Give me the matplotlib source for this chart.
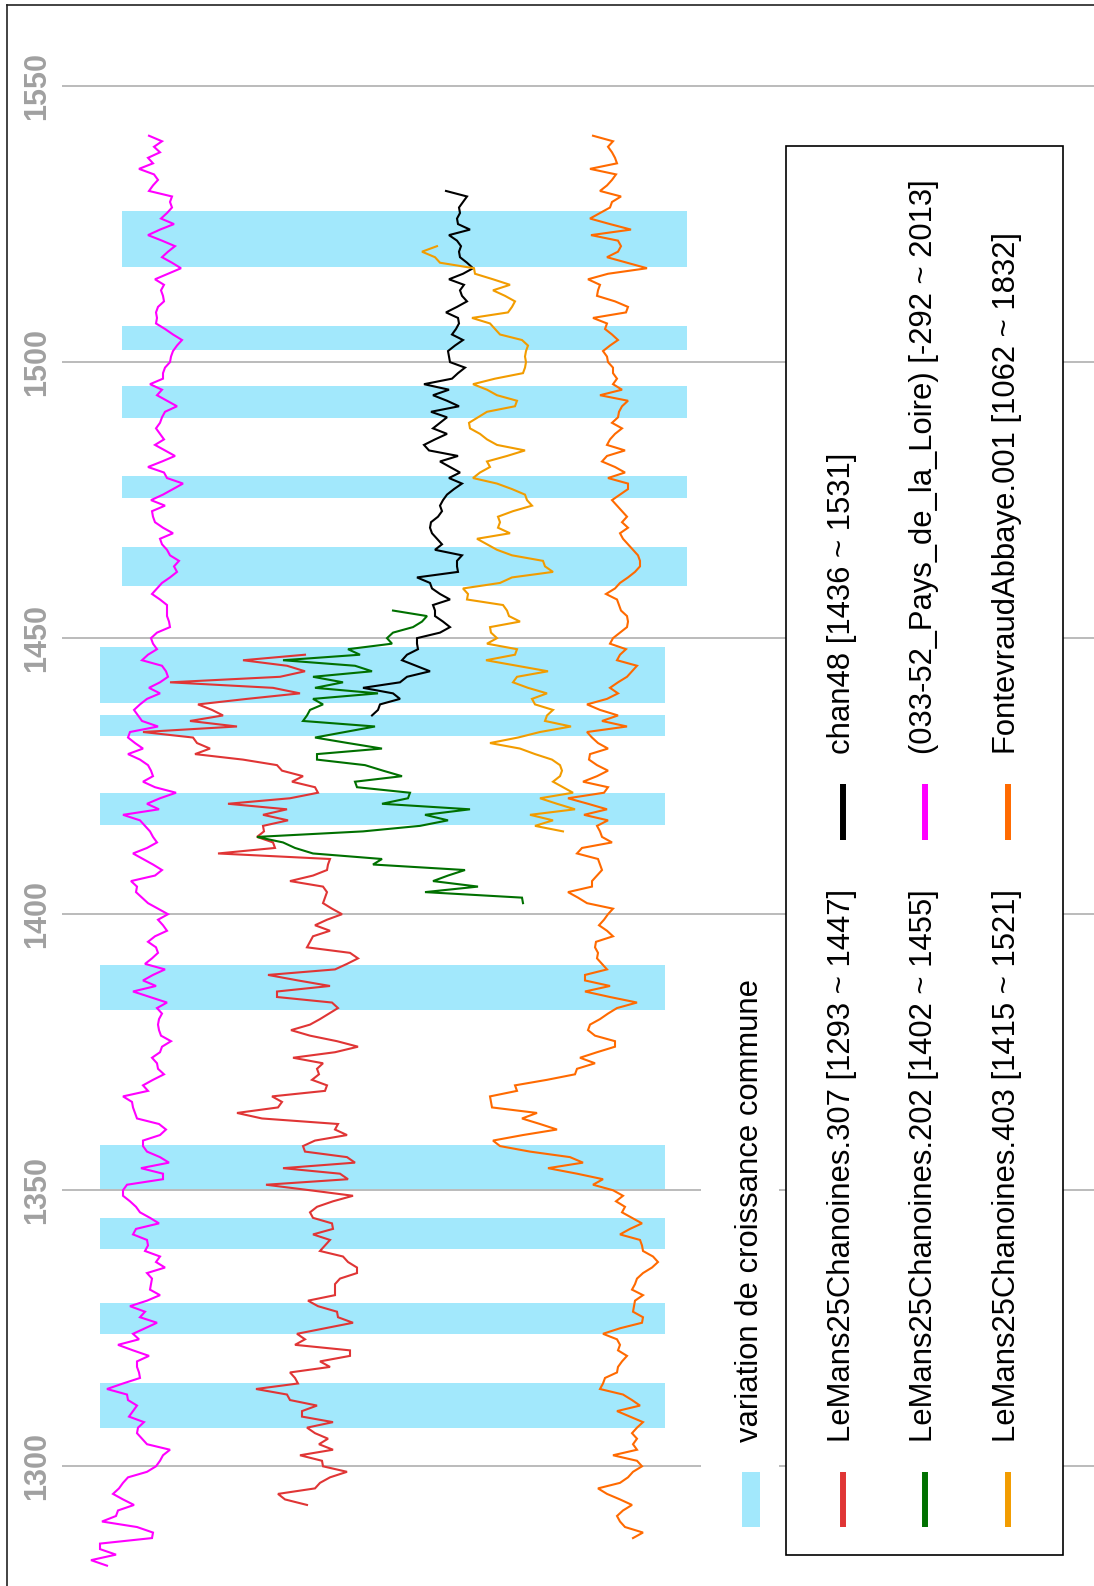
import numpy as np
import matplotlib
matplotlib.use("Agg")
import matplotlib.pyplot as plt
from matplotlib.transforms import Affine2D
from matplotlib.patches import Rectangle
from matplotlib.lines import Line2D

plt.rcParams['font.family'] = ['Liberation Sans', 'DejaVu Sans']

# ---------------- data ----------------
tick_years = [1300, 1350, 1400, 1450, 1500, 1550]

band_start = [1307.0, 1324.0, 1339.3, 1350.3, 1382.7, 1416.2, 1432.2, 1438.3,
              1459.5, 1475.4, 1489.9, 1502.2, 1517.3]
band_end = [1315.0, 1329.6, 1345.0, 1358.2, 1390.8, 1422.0, 1436.1, 1448.4,
            1466.5, 1479.3, 1495.6, 1506.6, 1527.4]

magenta_start = 1282
magenta_vals = [107, 91, 116, 100, 100, 152, 153, 137, 102, 116, 118, 134, 123, 113, 119, 123, 128, 147,
                156, 160, 163, 170, 147, 142, 137, 138, 144, 129, 133, 137, 128, 127, 107, 123, 140, 139,
                137, 137, 149, 133, 118, 139, 133, 145, 157, 140, 145, 130, 147, 160, 150, 151, 152, 147,
                165, 156, 160, 145, 148, 147, 133, 136, 159, 150, 140, 136, 130, 123, 123, 127, 163, 163,
                141, 169, 160, 147, 143, 143, 160, 166, 159, 137, 135, 133, 132, 123, 148, 143, 153, 164,
                158, 157, 152, 160, 162, 171, 161, 159, 158, 159, 162, 157, 167, 150, 133, 156, 143, 153,
                165, 145, 152, 158, 156, 148, 155, 167, 163, 158, 168, 158, 148, 142, 136, 137, 131, 155,
                162, 153, 143, 133, 147, 157, 153, 150, 145, 140, 123, 159, 147, 160, 176, 155, 143, 153,
                151, 148, 140, 128, 143, 135, 128, 130, 158, 142, 138, 134, 140, 147, 160, 149, 160, 168,
                166, 162, 142, 148, 157, 153, 151, 157, 170, 169, 167, 167, 167, 160, 152, 157, 162, 170,
                177, 174, 179, 170, 167, 162, 160, 173, 163, 155, 153, 152, 165, 151, 163, 173, 183, 167,
                164, 148, 162, 175, 165, 155, 164, 160, 156, 160, 162, 165, 177, 167, 157, 162, 150, 163,
                163, 165, 170, 171, 173, 177, 182, 173, 165, 156, 157, 156, 158, 164, 163, 161, 164, 155,
                168, 181, 172, 162, 168, 175, 162, 148, 160, 174, 161, 167, 172, 170, 172, 149, 153, 158,
                154, 139, 153, 148, 160, 154, 162, 149]

red_start = 1293
red_vals = [307, 285, 278, 315, 320, 330, 347, 323, 322, 300, 333, 319, 328, 315, 307, 333, 302, 302,
            317, 290, 287, 256, 298, 295, 290, 330, 320, 350, 350, 295, 305, 297, 325, 353, 338, 337,
            318, 308, 335, 335, 335, 340, 357, 357, 348, 343, 320, 325, 330, 313, 333, 332, 313, 310,
            317, 333, 353, 310, 266, 348, 340, 283, 355, 347, 305, 303, 315, 347, 335, 338, 262, 237,
            278, 282, 272, 325, 327, 312, 319, 317, 323, 293, 335, 358, 337, 310, 291, 310, 320, 329,
            338, 332, 277, 277, 330, 298, 268, 335, 347, 358, 350, 307, 310, 313, 330, 315, 327, 342,
            332, 323, 325, 327, 323, 290, 313, 327, 328, 330, 218, 275, 273, 257, 264, 263, 288, 263,
            287, 228, 290, 318, 315, 292, 303, 282, 277, 243, 195, 210, 197, 193, 143, 237, 190, 223,
            212, 198, 247, 300, 273, 170, 280, 305, 287, 243, 305]

green_start = 1402
green_vals = [523, 522, 425, 478, 433, 448, 465, 373, 382, 313, 295, 283, 257, 363, 420, 448, 425, 470,
              382, 408, 410, 357, 355, 402, 383, 365, 317, 317, 382, 348, 315, 345, 375, 303, 307, 310,
              323, 313, 378, 315, 343, 313, 372, 355, 283, 360, 348, 392, 387, 393, 413, 422, 427, 393]

amber_start = 1415
amber_vals = [563, 535, 553, 530, 575, 557, 540, 573, 563, 553, 560, 562, 560, 552, 535, 520, 490, 518,
              540, 571, 545, 547, 553, 535, 532, 547, 528, 513, 517, 548, 517, 486, 515, 517, 487, 497,
              491, 490, 520, 509, 507, 503, 467, 468, 463, 500, 512, 553, 545, 543, 512, 497, 487, 477,
              510, 498, 500, 498, 513, 532, 527, 525, 512, 497, 473, 480, 490, 487, 507, 525, 497, 487,
              480, 470, 469, 478, 487, 515, 517, 497, 487, 473, 495, 523, 525, 526, 525, 526, 528, 522,
              500, 495, 490, 472, 508, 512, 515, 505, 493, 510, 493, 475, 474, 440, 435, 422, 437]

black_start = 1436
black_vals = [372, 378, 380, 400, 393, 363, 400, 407, 430, 416, 402, 407, 418, 417, 417, 440, 450, 443,
              435, 435, 433, 450, 440, 432, 430, 417, 458, 457, 457, 462, 435, 442, 437, 432, 430, 431,
              438, 442, 440, 443, 447, 454, 462, 449, 460, 450, 440, 458, 429, 424, 435, 447, 433, 440,
              447, 431, 459, 447, 433, 449, 424, 452, 458, 465, 450, 449, 448, 455, 463, 452, 456, 459,
              458, 446, 457, 467, 462, 460, 464, 449, 463, 473, 467, 460, 459, 461, 457, 449, 470, 458,
              457, 460, 459, 463, 467, 446]

orange_start = 1287
orange_vals = [633, 643, 625, 620, 617, 623, 632, 620, 607, 598, 620, 628, 633, 642, 637, 613, 637, 633,
               637, 632, 637, 643, 630, 617, 640, 632, 623, 600, 603, 605, 617, 618, 622, 627, 618, 620,
               617, 603, 620, 642, 643, 633, 634, 635, 643, 632, 635, 637, 643, 652, 658, 653, 643, 642,
               640, 620, 630, 642, 632, 622, 625, 616, 623, 613, 593, 603, 577, 548, 583, 570, 530, 500,
               493, 523, 557, 540, 522, 537, 492, 491, 490, 517, 515, 547, 575, 577, 595, 580, 597, 615,
               615, 595, 588, 590, 600, 608, 617, 637, 610, 585, 610, 585, 585, 607, 602, 597, 598, 595,
               596, 613, 607, 599, 604, 608, 613, 587, 578, 568, 592, 592, 597, 602, 600, 598, 577, 582,
               612, 602, 600, 597, 608, 584, 607, 588, 568, 604, 608, 583, 597, 608, 597, 589, 590, 608,
               598, 592, 587, 627, 602, 618, 600, 587, 607, 618, 610, 618, 627, 632, 637, 617, 620, 626,
               610, 613, 620, 627, 628, 627, 621, 619, 617, 606, 615, 620, 628, 635, 640, 640, 638, 633,
               628, 623, 620, 628, 622, 627, 622, 617, 612, 620, 628, 628, 608, 625, 615, 602, 607, 625,
               607, 610, 615, 622, 612, 618, 619, 622, 628, 600, 622, 613, 617, 613, 613, 608, 607, 603,
               610, 618, 612, 605, 607, 593, 626, 628, 615, 597, 598, 600, 588, 608, 647, 627, 607, 618,
               621, 618, 591, 631, 610, 590, 600, 610, 612, 621, 600, 607, 612, 616, 590, 617, 615, 612,
               608, 613, 593]

legend_col1 = ["LeMans25Chanoines.307 [1293 ~ 1447]",
               "LeMans25Chanoines.202 [1402 ~ 1455]",
               "LeMans25Chanoines.403 [1415 ~ 1521]"]
legend_col2 = ["chan48 [1436 ~ 1531]",
               "(033-52_Pays_de_la_Loire) [-292 ~ 2013]",
               "FontevraudAbbaye.001 [1062 ~ 1832]"]
band_label = "variation de croissance commune"

# ---------------- style ----------------
C_MAG = '#ff00ff'
C_RED = '#e03535'
C_GREEN = '#007000'
C_AMBER = '#f29c00'
C_BLACK = '#000000'
C_ORANGE = '#ff6a00'
C_BAND = '#a2e8fc'
C_GRID = '#a8a8a8'
C_TICK = '#a0a0a0'

W, H = 1094, 1586
PX_PER_YEAR = 5.521
Y_1300 = 1466.3
y_top = 1300 + Y_1300 / PX_PER_YEAR
y_bot = 1300 - (H - Y_1300) / PX_PER_YEAR

fig = plt.figure(figsize=(W / 100, H / 100), dpi=100)
ax = fig.add_axes([0, 0, 1, 1])
ax.set_xlim(0, W)
ax.set_ylim(y_bot, y_top)
ax.axis('off')

# pixel transform (origin top-left)
tpx = Affine2D().scale(1 / W, -1 / H).translate(0, 1) + fig.transFigure

# gridlines
ax.hlines(tick_years, 62, W, color=C_GRID, lw=1.1, zorder=1)
for ty in tick_years:
    ax.text(37.5, ty, str(ty), rotation=90, ha='center', va='center',
            color=C_TICK, fontsize=22, fontweight='bold', zorder=5)

# bands
for b0, b1 in zip(band_start, band_end):
    x0 = 100 if b1 < 1450 else 122
    ax.add_patch(Rectangle((x0, b0), 565, b1 - b0, facecolor=C_BAND,
                           edgecolor='none', zorder=2))

series = [
    (magenta_start, magenta_vals, C_MAG),
    (red_start, red_vals, C_RED),
    (green_start, green_vals, C_GREEN),
    (black_start, black_vals, C_BLACK),
    (amber_start, amber_vals, C_AMBER),
    (orange_start, orange_vals, C_ORANGE),
]
for start, vals, col in series:
    yrs = start + np.arange(len(vals))
    ax.plot(vals, yrs, color=col, lw=1.5, zorder=3, solid_joinstyle='miter')

# outer frame (top & left)
fig.add_artist(Line2D([7, 7], [5, H], transform=tpx, color='#222222', lw=1.2))
fig.add_artist(Line2D([7, W], [5, 5], transform=tpx, color='#222222', lw=1.2))

# legend: band entry background
fig.add_artist(Rectangle((701, 940), 78, 640, transform=tpx, facecolor='white',
                         edgecolor='none', zorder=4))
fig.add_artist(Rectangle((741.7, 1472), 18.6, 55, transform=tpx, facecolor=C_BAND,
                         edgecolor='none', zorder=5))
fig.text(758.3, 1441.5, band_label, transform=tpx, rotation=90, rotation_mode='anchor',
         ha='left', va='baseline', fontsize=22.3, color='black', zorder=6)

# legend box
fig.add_artist(Rectangle((785.7, 145.7), 277.6, 1409, transform=tpx, facecolor='white',
                         edgecolor='black', lw=1.2, zorder=4))
base_x = [850, 932.3, 1015]
col1_colors = [C_RED, C_GREEN, C_AMBER]
col2_colors = [C_BLACK, C_MAG, C_ORANGE]
for bx, lab, col in zip(base_x, legend_col1, col1_colors):
    hx = bx - 7
    fig.add_artist(Line2D([hx, hx], [1472, 1527], transform=tpx, color=col, lw=4.3,
                          solid_capstyle='butt', zorder=6))
    fig.text(bx, 1441.5, lab, transform=tpx, rotation=90, rotation_mode='anchor',
             ha='left', va='baseline', fontsize=22.3, color='black', zorder=6)
for bx, lab, col in zip(base_x, legend_col2, col2_colors):
    hx = bx - 7
    fig.add_artist(Line2D([hx, hx], [784, 840], transform=tpx, color=col, lw=4.3,
                          solid_capstyle='butt', zorder=6))
    fig.text(bx, 753.6, lab, transform=tpx, rotation=90, rotation_mode='anchor',
             ha='left', va='baseline', fontsize=22.3, color='black', zorder=6)

fig.savefig('out.png', dpi=100, facecolor='white')
